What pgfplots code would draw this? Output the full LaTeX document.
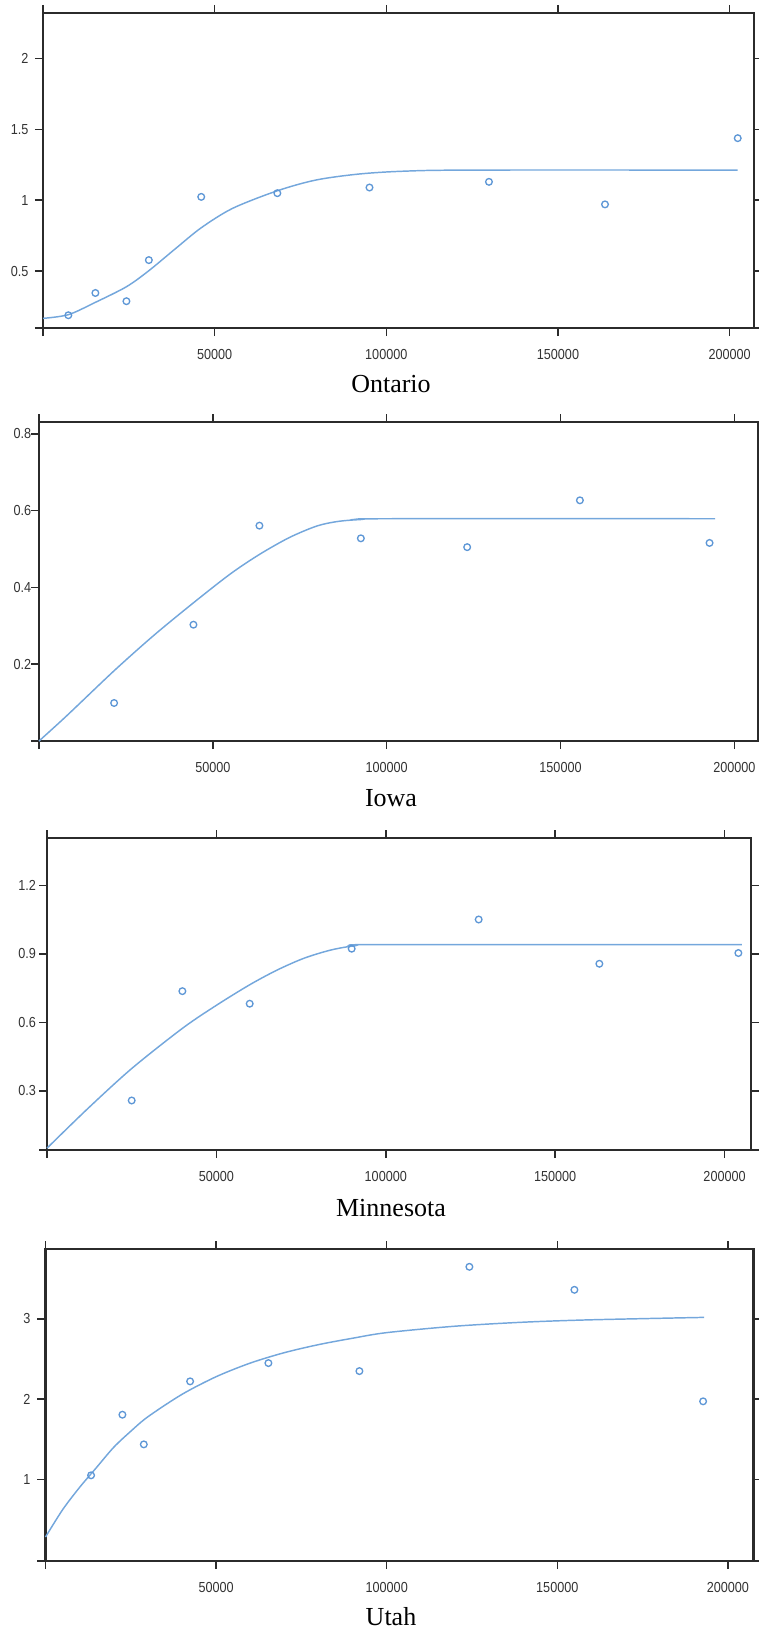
\documentclass[border=0pt]{standalone}
\usepackage{fontspec}
\setmainfont{Liberation Serif}
\newfontfamily\tickfont[FakeStretch=0.87]{Liberation Sans}
\usepackage{pgfplots}
\pgfplotsset{compat=1.18}
\definecolor{fitblue}{HTML}{74A7DC}
\definecolor{ptblue}{HTML}{5E97D6}
\definecolor{framec}{HTML}{2B2B2B}
\definecolor{ticktext}{HTML}{333333}

\pgfplotsset{
  panel/.style={
    scale only axis, anchor=south west,
    xmin=0, scaled x ticks=false, scaled y ticks=false,
    xtick={50000,100000,150000,200000},
    xticklabels={50000,100000,150000,200000},
    extra x ticks={0}, extra x tick labels={},
    tick pos=both, tick align=outside,
    major tick length=6pt,
    axis line style={framec, line width=1.6pt},
    every tick/.style={framec, line width=1.1pt},
    tick label style={font=\tickfont\fontsize{10.9}{12}\selectfont, text=ticktext, inner sep=0pt},
    xticklabel style={anchor=north, yshift=-9.7pt},
    clip=false,
  },
  fit/.style={fitblue, line width=1.1pt, smooth, tension=0.5, no marks},
  pts/.style={only marks, mark=o, mark size=2.5pt, ptblue, line width=1pt},
}

\begin{document}
\begin{tikzpicture}
\useasboundingbox (0,0) rectangle (569.25pt,-1224.75pt);

% Ontario
\begin{axis}[panel, at={(32.25pt,-246pt)}, width=533.25pt, height=236.25pt,
  xmax=207100, ymin=0.098, ymax=2.32,
  ytick={0.5,1,1.5,2}, yticklabels={0.5,1,1.5,2},
  extra y ticks={0.098}, extra y tick labels={},
  yticklabel style={anchor=east, xshift=-4.8pt}]
\addplot[fit] table {
0 0.166
7390 0.192
15260 0.279
24300 0.389
30820 0.502
38700 0.660
46090 0.805
55230 0.942
68260 1.066
79540 1.142
92000 1.184
105000 1.204
124750 1.212
202350 1.212
};
\addplot[pts] table {
7380 0.188
15260 0.345
24300 0.287
30830 0.577
46090 1.023
68260 1.049
95100 1.089
129900 1.129
163700 0.970
202360 1.437
};
\end{axis}

% Iowa
\begin{axis}[panel, at={(29.25pt,-555.75pt)}, width=539.25pt, height=239.25pt,
  xmax=206800, ymin=0, ymax=0.831,
  ytick={0.2,0.4,0.6,0.8}, yticklabels={0.2,0.4,0.6,0.8},
  extra y ticks={0}, extra y tick labels={},
  yticklabel style={anchor=east, xshift=0.4pt}]
\addplot[fit] table {
0 0
8000 0.066
21600 0.183
33000 0.275
44420 0.360
55000 0.435
63400 0.486
72000 0.530
79900 0.560
86000 0.572
92570 0.577
100000 0.579
194500 0.579
};
\addplot[pts] table {
21600 0.099
44420 0.303
63400 0.561
92570 0.528
123150 0.505
155570 0.627
192860 0.516
};
\end{axis}

% Minnesota
\begin{axis}[panel, at={(35.25pt,-862.5pt)}, width=528pt, height=234pt,
  xmax=207800, ymin=0.041, ymax=1.408,
  ytick={0.3,0.6,0.9,1.2}, yticklabels={0.3,0.6,0.9,1.2},
  extra y ticks={0.041}, extra y tick labels={},
  yticklabel style={anchor=east, xshift=-2.1pt}]
\addplot[fit] table {
0 0.049
12000 0.222
25000 0.398
39960 0.574
50000 0.675
59830 0.765
68000 0.830
76000 0.882
84000 0.918
91000 0.936
98200 0.941
205100 0.941
};
\addplot[pts] table {
25000 0.258
39960 0.737
59830 0.682
89930 0.923
127420 1.051
163040 0.857
204070 0.904
};
\end{axis}

% Utah
\begin{axis}[panel, at={(34.125pt,-1170.75pt)}, width=531pt, height=234pt,
  xmax=207500, ymin=-0.019, ymax=3.873,
  ytick={1,2,3}, yticklabels={1,2,3},
  extra y ticks={-0.019}, extra y tick labels={},
  yticklabel style={anchor=east, xshift=-5.1pt}]
\addplot[fit] table {
0 0.28
5000 0.62
10000 0.90
15000 1.15
20000 1.40
25000 1.60
30000 1.78
40000 2.06
50000 2.28
60000 2.45
70000 2.58
80000 2.68
90000 2.76
100000 2.83
120000 2.91
140000 2.96
160000 2.99
193000 3.02
};
\addplot[pts] table {
13360 1.050
22540 1.806
28810 1.436
42380 2.222
65330 2.450
92000 2.350
124230 3.651
155010 3.364
192730 1.973
};
\end{axis}

\begin{scope}[every node/.style={anchor=base, font=\fontsize{19.5}{22}\selectfont}]
\node at (293.25pt,-294pt) {Ontario};
\node at (293.25pt,-604.5pt) {Iowa};
\node at (293.25pt,-912.5pt) {Minnesota};
\node at (293.25pt,-1219.3pt) {Utah};
\end{scope}
\end{tikzpicture}
\end{document}
